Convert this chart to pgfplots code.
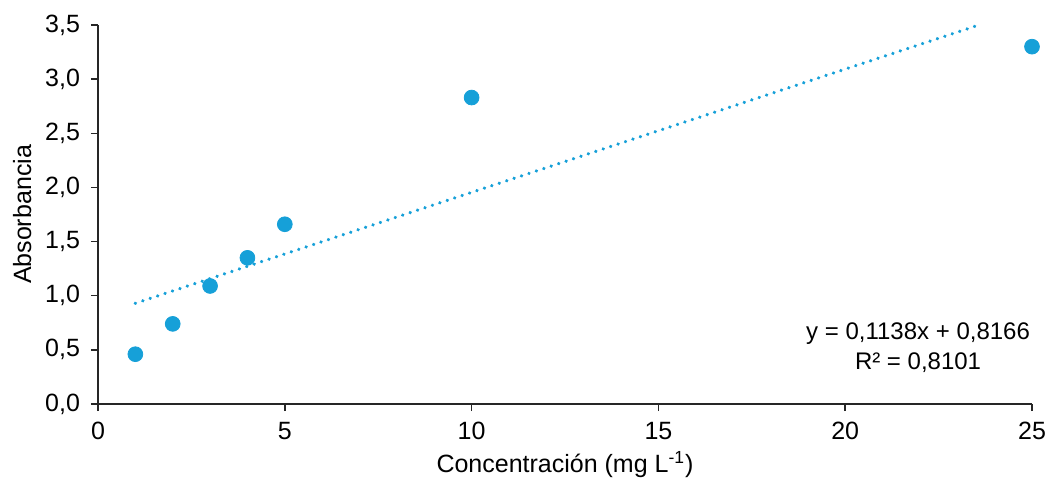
\documentclass[border=0pt]{standalone}
\usepackage{pgfplots}
\pgfplotsset{compat=1.18}
\usepackage{fontspec}
\setmainfont{Liberation Sans}
\definecolor{pts}{RGB}{22,160,216}
\begin{document}
\begin{tikzpicture}
\path[use as bounding box] (-49pt,-40pt) rectangle (474.5pt,202pt);
\begin{axis}[
  scale only axis,
  width=467pt, height=189.5pt,
  xmin=0, xmax=25, ymin=0, ymax=3.5,
  xtick={0,5,...,25}, ytick={0,0.5,...,3.5},
  axis x line=bottom, axis y line=left,
  axis line style={-, line width=0.75pt, black!85},
  tick style={line width=0.75pt, black!85},
  tick align=outside, major tick length=3.5pt,
  font=\fontsize{12.5pt}{14pt}\selectfont,
  /pgf/number format/assume math mode=true,
  yticklabel style={xshift=-2pt, /pgf/number format/.cd, fixed, fixed zerofill, precision=1, use comma},
  xticklabel style={yshift=-2pt},
  xlabel={Concentración (mg L\textsuperscript{-1})},
  ylabel={Absorbancia},
  xlabel style={yshift=1pt},
  ylabel style={yshift=0pt},
  clip=false,
]
\addplot[pts, line width=1.8pt, line cap=round, dash pattern=on 0.01pt off 3.9pt]
  coordinates {(1,0.9304)(23.65,3.508)};
\addplot[only marks, mark=*, mark size=3.7pt, pts, mark options={draw=pts, fill=pts}]
  coordinates {(1,0.46)(2,0.74)(3,1.09)(4,1.35)(5,1.66)(10,2.83)(25,3.30)};
\node[align=center, font=\fontsize{12pt}{15pt}\selectfont] at (axis cs:21.95,0.52)
  {y = 0,1138x + 0,8166\\R² = 0,8101};
\end{axis}
\end{tikzpicture}
\end{document}
